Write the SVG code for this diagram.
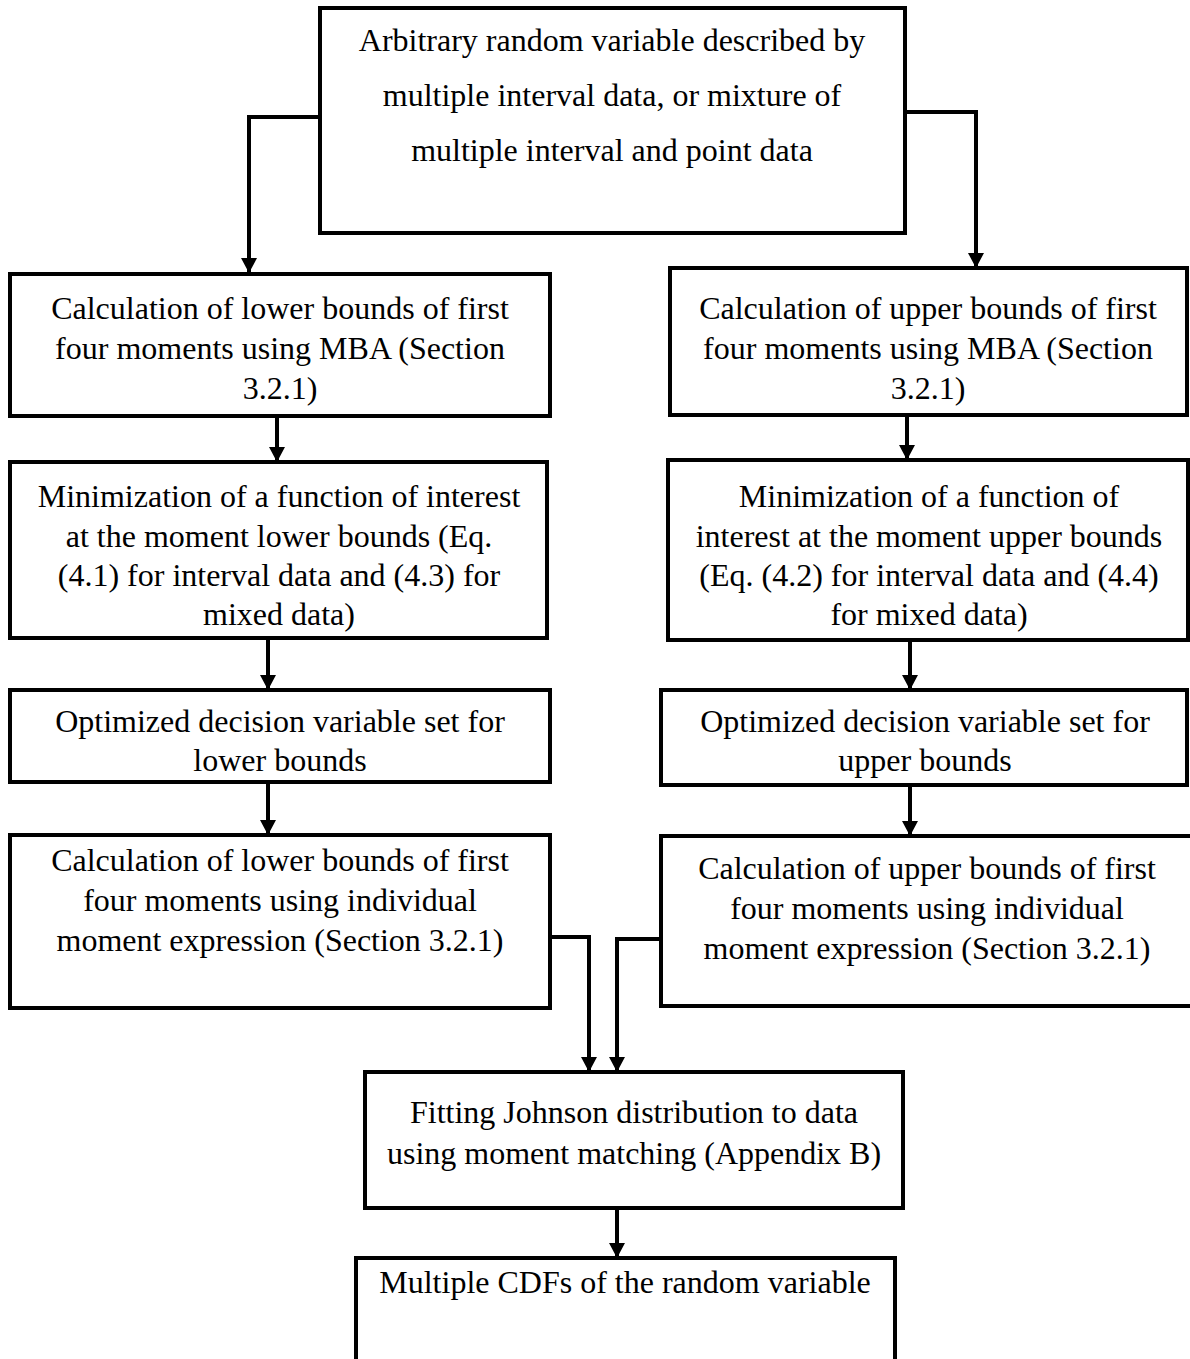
<svg xmlns="http://www.w3.org/2000/svg" width="1190" height="1359" viewBox="0 0 1190 1359">
<defs>
<style>
.box{fill:#fff;stroke:#000;stroke-width:4}
.t{font-family:"Liberation Serif","Times New Roman",serif;font-size:32px;fill:#000;text-anchor:middle}
.c{fill:none;stroke:#000;stroke-width:4}
</style>
<marker id="down" markerUnits="userSpaceOnUse" markerWidth="20" markerHeight="20" viewBox="0 0 20 20" refX="10" refY="18" orient="0">
<path d="M2,3 L18,3 L10,18 Z" fill="#000"/>
</marker>
</defs>
<rect width="1190" height="1359" fill="#fff"/>
<g id="connectors">
<path class="c" d="M320,117 H249 V273" marker-end="url(#down)"/>
<path class="c" d="M905,112 H976 V268" marker-end="url(#down)"/>
<path class="c" d="M277,416 V462" marker-end="url(#down)"/>
<path class="c" d="M268,638 V690" marker-end="url(#down)"/>
<path class="c" d="M268,782 V835" marker-end="url(#down)"/>
<path class="c" d="M907,415 V460" marker-end="url(#down)"/>
<path class="c" d="M910,640 V690" marker-end="url(#down)"/>
<path class="c" d="M910,785 V836" marker-end="url(#down)"/>
<path class="c" d="M550,937 H589 V1072" marker-end="url(#down)"/>
<path class="c" d="M661,939 H617 V1072" marker-end="url(#down)"/>
<path class="c" d="M617,1208 V1258" marker-end="url(#down)"/>
</g>
<g id="n-top">
<rect class="box" x="320" y="8" width="585" height="225"/>
<text class="t" x="612" y="51">Arbitrary random variable described by</text>
<text class="t" x="612" y="106">multiple interval data, or mixture of</text>
<text class="t" x="612" y="161">multiple interval and point data</text>
</g>
<g id="n-l1">
<rect class="box" x="10" y="274" width="540" height="142"/>
<text class="t" x="280" y="319">Calculation of lower bounds of first</text>
<text class="t" x="280" y="359">four moments using MBA (Section</text>
<text class="t" x="280" y="399">3.2.1)</text>
</g>
<g id="n-l2">
<rect class="box" x="10" y="462" width="537" height="176"/>
<text class="t" x="279" y="507">Minimization of a function of interest</text>
<text class="t" x="279" y="547">at the moment lower bounds (Eq.</text>
<text class="t" x="279" y="586">(4.1) for interval data and (4.3) for</text>
<text class="t" x="279" y="625">mixed data)</text>
</g>
<g id="n-l3">
<rect class="box" x="10" y="690" width="540" height="92"/>
<text class="t" x="280" y="732">Optimized decision variable set for</text>
<text class="t" x="280" y="771">lower bounds</text>
</g>
<g id="n-l4">
<rect class="box" x="10" y="835" width="540" height="173"/>
<text class="t" x="280" y="871">Calculation of lower bounds of first</text>
<text class="t" x="280" y="911">four moments using individual</text>
<text class="t" x="280" y="951">moment expression (Section 3.2.1)</text>
</g>
<g id="n-r1">
<rect class="box" x="670" y="268" width="517" height="147"/>
<text class="t" x="928" y="319">Calculation of upper bounds of first</text>
<text class="t" x="928" y="359">four moments using MBA (Section</text>
<text class="t" x="928" y="399">3.2.1)</text>
</g>
<g id="n-r2">
<rect class="box" x="668" y="460" width="520" height="180"/>
<text class="t" x="929" y="507">Minimization of a function of</text>
<text class="t" x="929" y="547">interest at the moment upper bounds</text>
<text class="t" x="929" y="586">(Eq. (4.2) for interval data and (4.4)</text>
<text class="t" x="929" y="625">for mixed data)</text>
</g>
<g id="n-r3">
<rect class="box" x="661" y="690" width="526" height="95"/>
<text class="t" x="925" y="732">Optimized decision variable set for</text>
<text class="t" x="925" y="771">upper bounds</text>
</g>
<g id="n-r4">
<rect class="box" x="661" y="836" width="531" height="170"/>
<text class="t" x="927" y="879">Calculation of upper bounds of first</text>
<text class="t" x="927" y="919">four moments using individual</text>
<text class="t" x="927" y="959">moment expression (Section 3.2.1)</text>
</g>
<g id="n-fit">
<rect class="box" x="365" y="1072" width="538" height="136"/>
<text class="t" x="634" y="1123">Fitting Johnson distribution to data</text>
<text class="t" x="634" y="1164">using moment matching (Appendix B)</text>
</g>
<g id="n-cdf">
<rect class="box" x="356" y="1258" width="539" height="140"/>
<text class="t" x="625" y="1293">Multiple CDFs of the random variable</text>
</g>
</svg>
